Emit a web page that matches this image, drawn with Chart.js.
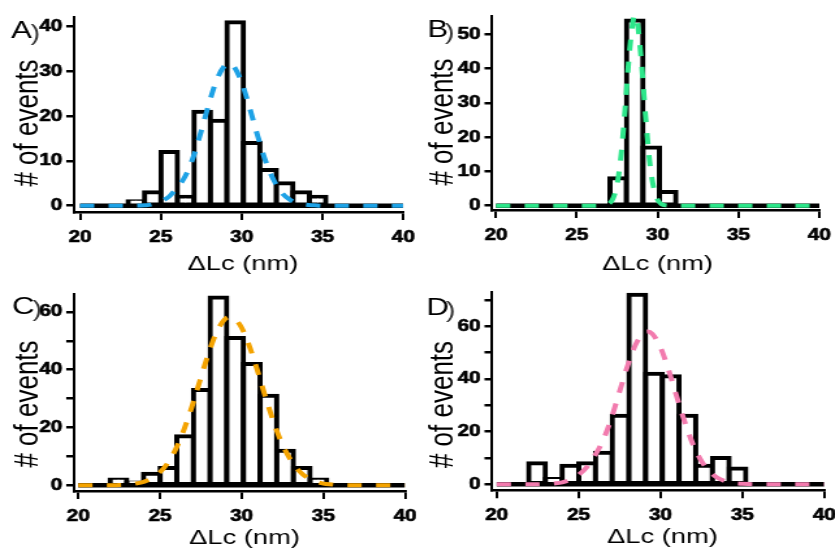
<!DOCTYPE html>
<html>
<head>
<meta charset="utf-8">
<script src="https://cdn.jsdelivr.net/npm/chart.js@4.4.1/dist/chart.umd.min.js"></script>
<style>
  html, body { margin: 0; padding: 0; background: #fff; }
  body { width: 835px; height: 554px; position: relative; overflow: hidden; }
  .painel { position: absolute; transform-origin: 0 0; }
</style>
</head>
<body>
<script>
// centros dos bins do histograma (nm), iguais nos quatro painéis
const binCenters = [22.46, 23.48, 24.50, 25.52, 26.54, 27.56, 28.58, 29.60, 30.62, 31.64, 32.66, 33.68, 34.70];

// contagens (# of events)
const countsA = [0, 1, 3, 12, 2, 21, 19, 41, 14, 8, 5, 3, 2];
const countsB = [0, 0, 0, 0, 0, 8, 54, 17, 4, 0, 0, 0, 0];
const countsC = [2, 1, 4, 6, 17, 33, 65, 51, 42, 31, 12, 6, 2];
const countsD = [8, 2, 7, 8, 12, 26, 72, 42, 41, 26, 7, 10, 6];

// linha de zero do histograma
const baseX = [20, 40];

// curvas de ajuste tracejadas
const fitXA = [20, 21, 22, 23, 24, 24.5, 25, 25.5, 26, 26.5, 27, 27.5, 28, 28.5, 29, 29.2, 29.5, 30, 30.5, 31, 31.5, 32, 32.5, 33, 33.5, 34, 34.5, 35, 36, 37, 38, 39, 40];
const fitYA = [0, 0, 0, 0, 0.1, 0.3, 1.0, 2.0, 4.0, 6.5, 10.8, 16.7, 23.1, 28.5, 31.5, 31.8, 31.2, 27.6, 21.8, 15.5, 9.8, 5.6, 2.8, 1.3, 0.5, 0.2, 0.1, 0, 0, 0, 0, 0, 0];

const fitXB = [20, 22, 24, 26, 26.5, 27, 27.25, 27.5, 27.75, 28, 28.25, 28.5, 28.6, 28.75, 29, 29.25, 29.5, 29.75, 30, 30.25, 30.5, 31, 32, 34, 36, 38, 40];
const fitYB = [0, 0, 0, 0, 0, 0.6, 2.2, 6.4, 15.3, 29.2, 44.6, 54.5, 55.5, 53.3, 41.7, 26.2, 13.1, 5.3, 1.7, 0.4, 0.1, 0, 0, 0, 0, 0, 0];

const fitXC = [20, 21, 22, 22.5, 23, 23.5, 24, 24.5, 25, 25.5, 26, 26.5, 27, 27.5, 28, 28.5, 29, 29.3, 29.5, 30, 30.5, 31, 31.5, 32, 32.5, 33, 33.5, 34, 34.5, 35, 35.5, 36, 37, 38, 39, 40];
const fitYC = [0, 0, 0, 0.1, 0.2, 0.6, 1.2, 2.4, 4.5, 7.9, 12.9, 19.7, 28.0, 37.2, 46.1, 53.4, 57.6, 58.3, 58.0, 54.5, 47.8, 39.1, 29.8, 21.2, 14.1, 8.8, 5.1, 2.7, 1.4, 0.6, 0.3, 0.1, 0, 0, 0, 0];

const fitXD = [20, 21, 22, 23, 23.5, 24, 24.5, 25, 25.5, 26, 26.5, 27, 27.5, 28, 28.5, 29, 29.2, 29.5, 30, 30.5, 31, 31.5, 32, 32.5, 33, 33.5, 34, 34.5, 35, 36, 37, 38, 39, 40];
const fitYD = [0, 0, 0, 0.1, 0.3, 0.7, 1.8, 3.6, 6.5, 11.0, 16.8, 25.1, 35.2, 45.2, 53.3, 57.6, 58.0, 57.1, 51.9, 43.3, 33.1, 23.3, 14.9, 8.8, 4.8, 2.4, 1.1, 0.4, 0.2, 0, 0, 0, 0, 0];

// ticks
const xTicks = [20, 25, 30, 35, 40];
const xTickLabels = ['20', '25', '30', '35', '40'];
const yTicksA = [0, 10, 20, 30, 40];
const yLabelsA = ['0', '10', '20', '30', '40'];
const yTicksB = [0, 10, 20, 30, 40, 50];
const yLabelsB = ['0', '10', '20', '30', '40', '50'];
const yTicksC = [0, 10, 20, 30, 40, 50, 60];
const yLabelsC = ['0', '', '20', '', '40', '', '60'];
const yTicksD = [0, 10, 20, 30, 40, 50, 60, 70];
const yLabelsD = ['0', '', '20', '', '40', '', '60', ''];

// a figura original está esticada na horizontal
const S = 1.3;
const FONTE = '"Liberation Sans", Arial, sans-serif';
Chart.defaults.font.family = FONTE;

// layout de cada painel em pixels da página
const paineis = [
  { letra: 'A', left: 0, top: 0, w: 418, h: 277, area: { l: 74, r: 403.3, t: 17, b: 212 },
    xRange: [19.63, 40], yRange: [-1.41, 42.17], counts: countsA, fitX: fitXA, fitY: fitYA, cor: '#1ea2e6',
    yTicks: yTicksA, yLabels: yLabelsA, posLetra: [11, 38], posPar: [30.5, 38], posYTit: [28, 123], posXTit: [243, 269.5] },
  { letra: 'B', left: 415, top: 0, w: 420, h: 277, area: { l: 492.3, r: 819.3, t: 16, b: 210 },
    xRange: [19.77, 40], yRange: [-1.25, 55.34], counts: countsB, fitX: fitXB, fitY: fitYB, cor: '#2de68a',
    yTicks: yTicksB, yLabels: yLabelsB, posLetra: [427.5, 37], posPar: [445, 37], posYTit: [444, 122], posXTit: [657.5, 269.5] },
  { letra: 'C', left: 0, top: 277, w: 418, h: 277, area: { l: 74, r: 405, t: 294.3, b: 491 },
    xRange: [19.74, 40], yRange: [-1.97, 66.1], counts: countsC, fitX: fitXC, fitY: fitYC, cor: '#f4a300',
    yTicks: yTicksC, yLabels: yLabelsC, posLetra: [12, 313.7], posPar: [32.5, 313.7], posYTit: [28, 404], posXTit: [244.5, 543.5] },
  { letra: 'D', left: 415, top: 277, w: 420, h: 277, area: { l: 492.3, r: 824.3, t: 292, b: 490.3 },
    xRange: [19.73, 40], yRange: [-2.28, 73.0], counts: countsD, fitX: fitXD, fitY: fitYD, cor: '#f27bae',
    yTicks: yTicksD, yLabels: yLabelsD, posLetra: [426.5, 315], posPar: [446, 315], posYTit: [444, 404.5], posXTit: [662.5, 543] }
];

const desenharTextos = (ctx, p) => {
  const u = x => (x - p.left) / S;
  const v = y => y - p.top;
  ctx.save();
  ctx.fillStyle = '#000';
  ctx.textBaseline = 'alphabetic';
  ctx.textAlign = 'left';
  ctx.font = '24px ' + FONTE;
  ctx.fillText(p.letra, u(p.posLetra[0]), v(p.posLetra[1]));
  ctx.fillStyle = '#333';
  ctx.font = '22px ' + FONTE;
  ctx.fillText(')', u(p.posPar[0]), v(p.posPar[1]) + 2);

  ctx.fillStyle = '#000';
  ctx.textAlign = 'center';
  ctx.font = '21px ' + FONTE;
  ctx.fillText('\u0394Lc (nm)', u(p.posXTit[0]), v(p.posXTit[1]));

  ctx.translate(u(p.posYTit[0]), v(p.posYTit[1]));
  ctx.rotate(-Math.PI / 2);
  ctx.textBaseline = 'middle';
  ctx.font = '26px ' + FONTE;
  ctx.fillText('# of events', 0, 0);
  ctx.restore();
};

const criarPainel = (p) => {
  const div = document.createElement('div');
  div.className = 'painel';
  div.style.left = p.left + 'px';
  div.style.top = p.top + 'px';
  div.style.transform = 'scaleX(' + S + ')';
  const cv = document.createElement('canvas');
  const W = Math.round(p.w / S);
  cv.width = W;
  cv.height = p.h;
  div.appendChild(cv);
  document.body.appendChild(div);

  const yW = 40, xH = 40;
  const L = (p.area.l - p.left) / S;
  const R = (p.area.r - p.left) / S;
  const T = p.area.t - p.top;
  const B = p.area.b - p.top;

  new Chart(cv, {
    type: 'bar',
    data: {
      datasets: [
        {
          type: 'line',
          data: p.fitX.map((x, i) => ({ x, y: p.fitY[i] })),
          borderColor: p.cor, borderWidth: 4, borderDash: [11, 11],
          pointRadius: 0, cubicInterpolationMode: 'monotone', order: 0
        },
        {
          type: 'line',
          data: baseX.map(x => ({ x, y: 0 })),
          borderColor: '#000', borderWidth: 4.5, pointRadius: 0, order: 1
        },
        {
          type: 'bar',
          data: binCenters.map((x, i) => ({ x, y: p.counts[i] })),
          backgroundColor: '#fff', borderColor: '#000', borderWidth: 4,
          borderSkipped: false, inflateAmount: 2,
          barPercentage: 1, categoryPercentage: 1, order: 2
        }
      ]
    },
    options: {
      responsive: false,
      animation: false,
      devicePixelRatio: 1,
      layout: { padding: { left: L - yW, right: W - R, top: T, bottom: p.h - B - xH } },
      plugins: { legend: { display: false }, tooltip: { enabled: false } },
      scales: {
        x: {
          type: 'linear', min: p.xRange[0], max: p.xRange[1], bounds: 'data', offset: false,
          afterBuildTicks: s => { s.ticks = xTicks.map(value => ({ value })); },
          afterFit: s => { s.height = xH; s.paddingLeft = 0; s.paddingRight = 0; },
          ticks: {
            callback: (val, i) => xTickLabels[i], color: '#000', padding: 8,
            maxRotation: 0, autoSkip: false, font: { size: 16, weight: 'bold' },
            textStrokeColor: '#000', textStrokeWidth: 0.6
          },
          grid: { drawOnChartArea: false, offset: false, tickLength: 8, tickWidth: 2, tickColor: '#000', lineWidth: 2 },
          border: { display: true, color: '#000', width: 2.5 }
        },
        y: {
          min: p.yRange[0], max: p.yRange[1], bounds: 'data',
          afterBuildTicks: s => { s.ticks = p.yTicks.map(value => ({ value })); },
          afterFit: s => { s.width = yW; s.paddingTop = 0; s.paddingBottom = 0; },
          ticks: {
            callback: (val, i) => p.yLabels[i], color: '#000', padding: 3,
            autoSkip: false, font: { size: 16, weight: 'bold' },
            textStrokeColor: '#000', textStrokeWidth: 0.6
          },
          grid: { drawOnChartArea: false, tickLength: 6, tickWidth: 2.5, tickColor: '#000', lineWidth: 2.5 },
          border: { display: true, color: '#000', width: 2 }
        }
      }
    },
    plugins: [{ id: 'textos', afterDraw: chart => desenharTextos(chart.ctx, p) }]
  });
};

paineis.forEach(criarPainel);
</script>
</body>
</html>
